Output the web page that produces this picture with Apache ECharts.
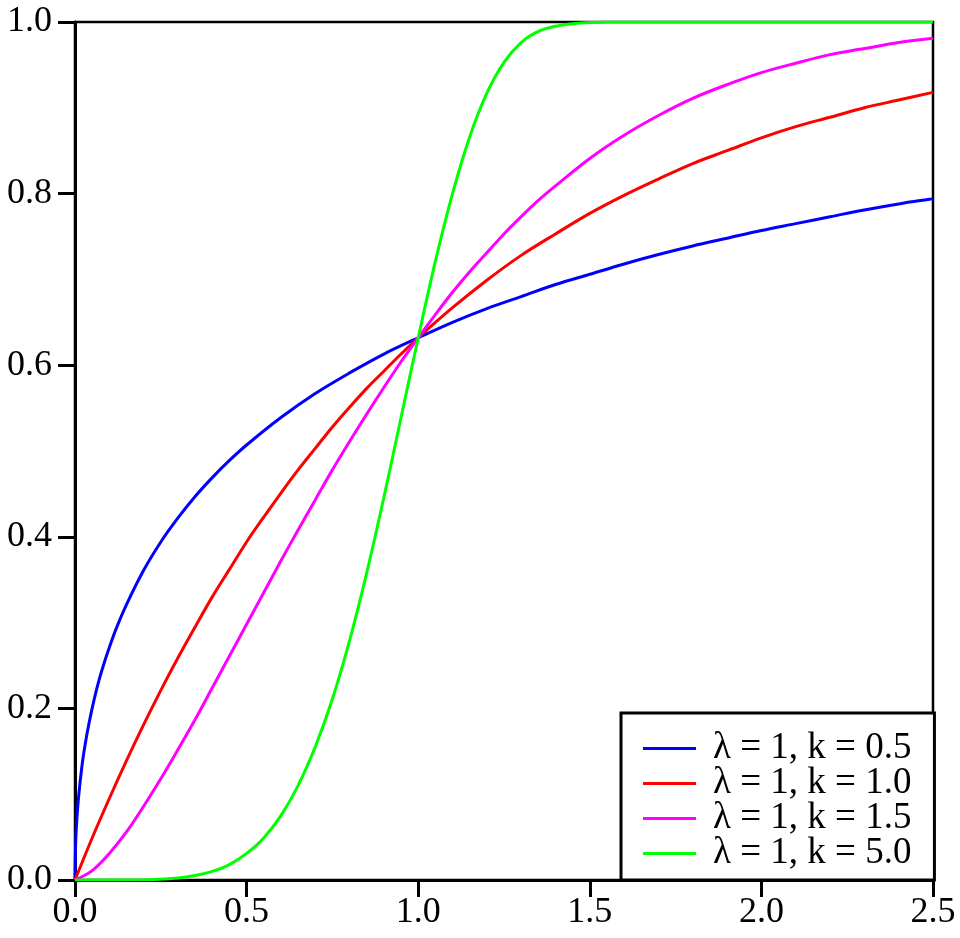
<!DOCTYPE html>
<html>
<head>
<meta charset="utf-8">
<script src="https://cdn.jsdelivr.net/npm/echarts@6/dist/echarts.min.js"></script>
<style>
  html, body { margin: 0; padding: 0; background: #fff; }
  #chart { width: 960px; height: 938px; }
</style>
</head>
<body>
<div id="chart"></div>
<script>
// values, one x list per curve
const xHalf = [0, 0.002, 0.005, 0.01, 0.02, 0.03, 0.04, 0.055, 0.07, 0.085, 0.1, 0.12, 0.15, 0.2, 0.25, 0.3, 0.35, 0.4, 0.45, 0.5, 0.6, 0.7, 0.8, 0.9, 1.0, 1.1, 1.2, 1.3, 1.4, 1.5, 1.6, 1.7, 1.8, 1.9, 2.0, 2.1, 2.2, 2.3, 2.4, 2.5];
const yHalf = [0, 0.044, 0.068, 0.095, 0.132, 0.159, 0.181, 0.209, 0.233, 0.253, 0.271, 0.293, 0.321, 0.361, 0.394, 0.422, 0.447, 0.469, 0.489, 0.507, 0.539, 0.567, 0.591, 0.613, 0.632, 0.650, 0.666, 0.680, 0.694, 0.706, 0.718, 0.729, 0.739, 0.748, 0.757, 0.765, 0.773, 0.781, 0.788, 0.794];

const xOne = [0, 0.05, 0.1, 0.15, 0.2, 0.25, 0.3, 0.35, 0.4, 0.45, 0.5, 0.55, 0.6, 0.65, 0.7, 0.75, 0.8, 0.85, 0.9, 0.95, 1.0, 1.1, 1.2, 1.3, 1.4, 1.5, 1.6, 1.7, 1.8, 1.9, 2.0, 2.1, 2.2, 2.3, 2.4, 2.5];
const yOne = [0, 0.049, 0.095, 0.139, 0.181, 0.221, 0.259, 0.295, 0.330, 0.362, 0.394, 0.423, 0.451, 0.478, 0.503, 0.528, 0.551, 0.573, 0.593, 0.613, 0.632, 0.667, 0.699, 0.728, 0.753, 0.777, 0.798, 0.817, 0.835, 0.850, 0.865, 0.878, 0.889, 0.900, 0.909, 0.918];

const xOneHalf = [0, 0.05, 0.1, 0.15, 0.2, 0.25, 0.3, 0.35, 0.4, 0.45, 0.5, 0.55, 0.6, 0.65, 0.7, 0.75, 0.8, 0.85, 0.9, 0.95, 1.0, 1.05, 1.1, 1.15, 1.2, 1.25, 1.3, 1.35, 1.4, 1.5, 1.6, 1.7, 1.8, 1.9, 2.0, 2.1, 2.2, 2.3, 2.4, 2.5];
const yOneHalf = [0, 0.011, 0.031, 0.056, 0.086, 0.118, 0.152, 0.187, 0.224, 0.261, 0.298, 0.335, 0.372, 0.408, 0.443, 0.478, 0.511, 0.543, 0.574, 0.604, 0.632, 0.659, 0.685, 0.709, 0.731, 0.753, 0.773, 0.792, 0.809, 0.841, 0.868, 0.891, 0.911, 0.927, 0.941, 0.952, 0.962, 0.969, 0.976, 0.981];

const xFive = [0, 0.2, 0.3, 0.35, 0.4, 0.45, 0.5, 0.55, 0.6, 0.65, 0.7, 0.75, 0.8, 0.85, 0.9, 0.95, 1.0, 1.05, 1.1, 1.15, 1.2, 1.25, 1.3, 1.35, 1.4, 1.45, 1.5, 1.55, 1.6, 2.0, 2.5];
const yFive = [0, 0.0003, 0.0024, 0.0052, 0.010, 0.018, 0.031, 0.049, 0.075, 0.110, 0.155, 0.211, 0.279, 0.358, 0.446, 0.539, 0.632, 0.721, 0.800, 0.866, 0.917, 0.953, 0.976, 0.989, 0.995, 0.998, 0.9995, 0.9999, 1.0, 1.0, 1.0];

const seriesNames = ["λ = 1, k = 0.5", "λ = 1, k = 1.0", "λ = 1, k = 1.5", "λ = 1, k = 5.0"];
const seriesColors = ["#0000ff", "#ff0000", "#ff00ff", "#00ff00"];

const font = "'Liberation Serif', 'DejaVu Serif', serif";
const pairs = (xs, ys) => xs.map((x, i) => [x, ys[i]]);
const curves = [pairs(xHalf, yHalf), pairs(xOne, yOne), pairs(xOneHalf, yOneHalf), pairs(xFive, yFive)];

const chart = echarts.init(document.getElementById("chart"));
chart.setOption({
  animation: false,
  grid: {
    left: 75,
    top: 22,
    right: 27,
    bottom: 58,
    show: true,
    borderColor: "#000",
    borderWidth: 2.5,
    backgroundColor: "#fff"
  },
  legend: {
    orient: "vertical",
    left: 621,
    top: 713,
    padding: [17, 23, 8, 22],
    itemGap: -2,
    itemWidth: 53,
    itemHeight: 3,
    icon: "rect",
    borderColor: "#000",
    borderWidth: 3,
    backgroundColor: "#fff",
    data: seriesNames,
    textStyle: {
      fontFamily: font,
      fontSize: 37,
      lineHeight: 35,
      color: "#000",
      padding: [0, 0, 0, 12]
    }
  },
  xAxis: {
    type: "value",
    min: 0,
    max: 2.5,
    interval: 0.5,
    splitLine: { show: false },
    axisLine: { onZero: false, lineStyle: { color: "#000", width: 3 } },
    axisTick: { inside: false, length: 17, lineStyle: { color: "#000", width: 3 } },
    axisLabel: {
      margin: 15,
      fontFamily: font,
      fontSize: 36,
      color: "#000",
      formatter: v => v.toFixed(1)
    }
  },
  yAxis: {
    type: "value",
    min: 0,
    max: 1,
    interval: 0.2,
    splitLine: { show: false },
    axisLine: { onZero: false, lineStyle: { color: "#000", width: 3 } },
    axisTick: { inside: false, length: 17, lineStyle: { color: "#000", width: 3 } },
    axisLabel: {
      margin: 23,
      fontFamily: font,
      fontSize: 36,
      color: "#000",
      formatter: v => v.toFixed(1)
    }
  },
  series: curves.map((data, i) => ({
    name: seriesNames[i],
    type: "line",
    data: data,
    smooth: 0.35,
    showSymbol: false,
    symbol: "none",
    clip: true,
    color: seriesColors[i],
    lineStyle: { color: seriesColors[i], width: 3 }
  }))
});
</script>
</body>
</html>
